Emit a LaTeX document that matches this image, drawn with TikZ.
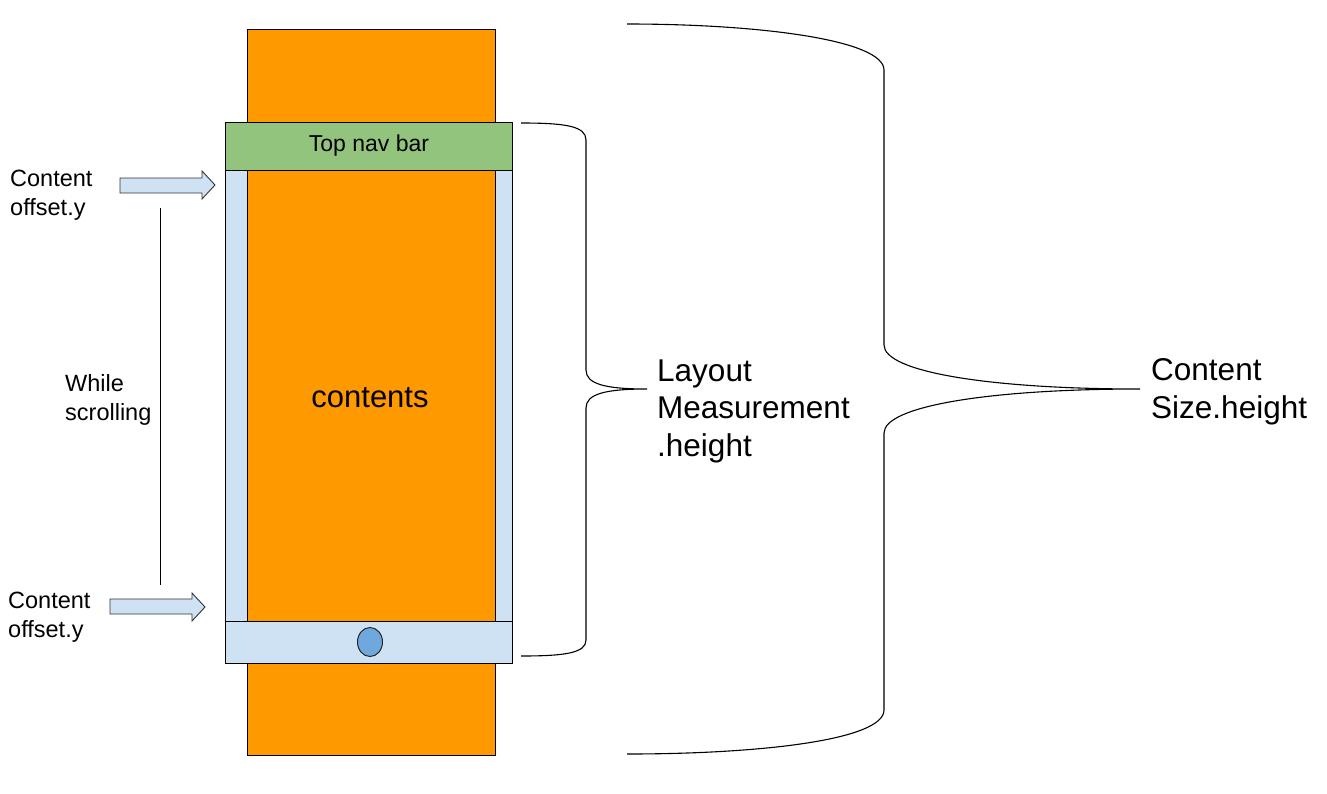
\documentclass[tikz,border=0pt]{standalone}
\usepackage{fontspec}
\setmainfont{Liberation Sans}
\usetikzlibrary{shapes.geometric}
\definecolor{orng}{HTML}{FF9900}
\definecolor{grn}{HTML}{93C47D}
\definecolor{lblue}{HTML}{CFE2F3}
\definecolor{dblue}{HTML}{6FA8DC}
\begin{document}
\begin{tikzpicture}[x=1pt,y=-1pt,
  box/.style={draw=black,line width=1pt},
  lbl/.style={inner sep=0pt,align=left,anchor=west},
  smalltext/.style={font=\fontsize{23.5}{29.5}\selectfont},
  bigtext/.style={font=\fontsize{31.5}{37.5}\selectfont},
  brace/.style={draw=black,line width=1.1pt},
  blockarrow/.style={draw=black!80,fill=lblue,line width=0.9pt,line join=miter}]
\useasboundingbox (0,0) rectangle (1327,793);
% frame
\path[box,fill=lblue] (225,122) rectangle (512,663);
\path[box,fill=orng] (247,29) rectangle (495,755);
\node[box,fill=grn,minimum width=287pt,minimum height=48pt,anchor=north west,inner sep=0pt] (top) at (225,122) {};
\node[font=\fontsize{23}{27}\selectfont] (toptext) at (369,146) {Top nav bar};
\node[box,fill=lblue,minimum width=287pt,minimum height=42pt,anchor=north west,inner sep=0pt] (bottom) at (225,621) {};
\node[draw=black!85,line width=1pt,fill=dblue,ellipse,minimum width=25pt,minimum height=29pt,inner sep=0pt] (dot) at (370,642) {};
\node[font=\fontsize{31}{37}\selectfont] (contents) at (370,398) {contents};
% left arrows
\path[blockarrow] (120,178) -- (202,178) -- (202,171) -- (215,185) -- (202,199) -- (202,193) -- (120,193) -- cycle;
\path[blockarrow] (110,599) -- (192,599) -- (192,593) -- (205,607) -- (192,621) -- (192,614) -- (110,614) -- cycle;
\coordinate (vtop) at (160,208);
\coordinate (vbot) at (160,585);
\draw[line width=1pt] (vtop) -- (vbot);
% left texts
\node[lbl,smalltext] (off1) at (10,195) {Content\\offset.y};
\node[lbl,smalltext] (off2) at (8,617) {Content\\offset.y};
\node[lbl,smalltext] (while) at (65,400) {While\\scrolling};
% small brace
\draw[brace] (521,123) .. controls (565,123) and (586,126) .. (586,140)
  -- (586,370) .. controls (586,384) and (605,389) .. (647,389)
  .. controls (605,389) and (586,394) .. (586,408)
  -- (586,640) .. controls (586,653) and (565,656) .. (521,656);
% large brace
\draw[brace] (627,24) .. controls (760,24) and (884,40) .. (884,70)
  -- (884,345) .. controls (884,372) and (990,389) .. (1140,389)
  .. controls (990,389) and (884,406) .. (884,433)
  -- (884,710) .. controls (884,740) and (760,754) .. (627,754);
% right texts
\node[lbl,bigtext] (layout) at (657,411) {Layout\\Measurement\\.height};
\node[lbl,bigtext] (csize) at (1151,392) {Content\\Size.height};
\end{tikzpicture}
\end{document}
